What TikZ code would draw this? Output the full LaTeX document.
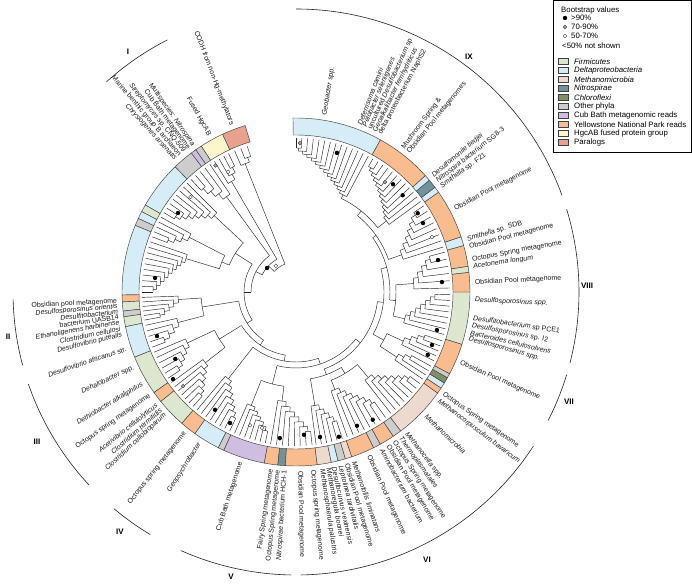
\documentclass[tikz,border=0pt]{standalone}
\usepackage{fontspec}
\setmainfont{Liberation Sans}
\definecolor{cFir}{RGB}{221,231,207}
\definecolor{cDel}{RGB}{214,237,247}
\definecolor{cMet}{RGB}{238,217,207}
\definecolor{cNit}{RGB}{111,146,156}
\definecolor{cChl}{RGB}{124,146,102}
\definecolor{cOth}{RGB}{205,205,205}
\definecolor{cCub}{RGB}{206,190,226}
\definecolor{cYel}{RGB}{249,188,143}
\definecolor{cHgc}{RGB}{251,246,205}
\definecolor{cPar}{RGB}{233,161,143}
\tikzset{
  tree/.style={line width=0.45pt,draw=black!85},
  ringline/.style={draw=black!75,line width=0.45pt},
  lab/.style={font=\fontsize{7}{7}\selectfont,inner sep=0pt,text=black!90},
  clab/.style={font=\fontsize{8}{9}\selectfont\bfseries,inner sep=0pt},
  cladearc/.style={line width=0.6pt,draw=black!85},
  bdot/.style={circle,fill=black,inner sep=0pt,minimum size=4.4pt},
  gdot/.style={circle,fill=black!35,draw=black!80,line width=0.35pt,inner sep=0pt,minimum size=3.8pt},
  odot/.style={circle,fill=white,draw=black!80,line width=0.35pt,inner sep=0pt,minimum size=3.8pt},
  legtext/.style={font=\fontsize{7.8}{9}\selectfont,inner sep=0pt,anchor=west},
  swatch/.style={draw=black!75,line width=0.4pt}
}
\newcommand\Rt{154}
% caterpillar clade: #1 name, #2 first tip angle (root side), #3 last tip angle, #4 tips, #5 root radius, #6 step
\newcommand\TCat[6]{%
  \pgfmathsetmacro\Cd{(#3-#2)/(#4-1)}%
  \pgfmathtruncatemacro\Cm{#4-1}%
  \xdef\Cpsi{#3}%
  \xdef\Crr{\Rt}%
  \foreach \Ci in {1,...,\Cm}{%
    \pgfmathtruncatemacro\Cj{\Cm+1-\Ci}%
    \pgfmathsetmacro\Ct{#2+(\Cj-1)*\Cd}%
    \pgfmathsetmacro\Cr{#5+(\Cj-1)*#6}%
    \draw[tree] (\Ct:\Cr pt) arc[start angle=\Ct,end angle=\Cpsi,radius=\Cr pt];
    \draw[tree] (\Ct:\Cr pt) -- (\Ct:\Rt pt);
    \draw[tree] (\Cpsi:\Cr pt) -- (\Cpsi:\Crr pt);
    \pgfmathsetmacro\Cn{(\Ct+\Cpsi)/2}%
    \coordinate (#1-\Cj) at (\Cn:\Cr pt);
    \xdef\Cpsi{\Cn}\xdef\Crr{\Cr}%
  }%
  \expandafter\xdef\csname ra#1\endcsname{\Cpsi}%
  \expandafter\xdef\csname rr#1\endcsname{#5}%
}
% ladder join of named subtrees: #1 new name, #2 last child, #3 list child/radius (reverse order)
\newcommand\TJoin[3]{%
  \xdef\Jpsi{\csname ra#2\endcsname}%
  \xdef\Jrr{\csname rr#2\endcsname}%
  \foreach \Jc/\Jr in {#3}{%
    \xdef\Jt{\csname ra\Jc\endcsname}%
    \xdef\Jcr{\csname rr\Jc\endcsname}%
    \draw[tree] (\Jt:\Jr pt) arc[start angle=\Jt,end angle=\Jpsi,radius=\Jr pt];
    \draw[tree] (\Jt:\Jr pt) -- (\Jt:\Jcr pt);
    \draw[tree] (\Jpsi:\Jr pt) -- (\Jpsi:\Jrr pt);
    \pgfmathsetmacro\Jn{(\Jt+\Jpsi)/2}%
    \coordinate (#1-\Jc) at (\Jn:\Jr pt);
    \xdef\Jpsi{\Jn}\xdef\Jrr{\Jr}%
  }%
  \expandafter\xdef\csname ra#1\endcsname{\Jpsi}%
  \expandafter\xdef\csname rr#1\endcsname{\Jrr}%
}
\newcommand\Seg[3]{\filldraw[fill=#3,ringline] (#1:157pt) arc[start angle=#1,end angle=#2,radius=157pt] -- (#2:174pt) arc[start angle=#2,end angle=#1,radius=174pt] -- cycle;}
\newcount\LabN
\newcommand\LR[2]{\global\advance\LabN by 1 \node[lab,rotate=#1,anchor=west] (lab\the\LabN) at (#1:179pt) {#2};}
\newcommand\LL[2]{\global\advance\LabN by 1 \node[lab,rotate=#1-180,anchor=east] (lab\the\LabN) at (#1:179pt) {#2};}
\newcount\DotN
\newcommand\PD[3]{\global\advance\DotN by 1 \node[#1] (dot\the\DotN) at (#2:#3pt) {};}
\begin{document}
\begin{tikzpicture}[x=1pt,y=1pt]
\useasboundingbox (0,0) rectangle (692,584);
\fill[white] (0,0) rectangle (692,584);
\begin{scope}[shift={(296,292)}]
% ---------- ring ----------
\foreach \a/\b/\c in {107/115/cPar,115/123/cHgc,123/125.2/cOth,125.2/127/cCub,127/134/cOth,
  134/150/cDel,150/152.5/cFir,152.5/155/cDel,155/157.5/cOth,157.5/181/cDel,
  181/183.3/cYel,183.3/186.3/cFir,186.3/188.2/cOth,188.2/191.5/cFir,191.5/202/cDel,
  202/215.3/cFir,215.3/219/cYel,219/229/cFir,229/234.5/cYel,234.5/243.5/cDel,243.5/245.5/cOth,
  245.5/259.5/cCub,259.5/264/cYel,264/266.5/cNit,266.5/277/cYel,
  277/281.7/cMet,281.7/284/cDel,284/286.5/cOth,286.5/288.7/cMet,288.7/296.5/cYel,
  296.5/299/cOth,299/304/cYel,304/307/cOth,307/324.5/cMet,
  324.5/326.5/cYel,326.5/328.5/cDel,328.5/330.5/cChl,330.5/332/cOth,332/342.5/cYel,
  342.5/360/cFir,360/366.5/cYel,366.5/368.5/cFir,368.5/375.5/cYel,375.5/378.5/cDel,
  378.5/395/cYel,395/397/cDel,397/400/cNit,400/402/cDel,402/421/cYel,421/451/cDel}
  {\Seg{\a}{\b}{\c}}
% ---------- tree ----------
\TCat{A}{113.5}{108.5}{3}{138}{5}
\TCat{B}{122}{116}{4}{128}{6}
\TCat{C}{124}{133}{5}{118}{7}
\TCat{D1}{135}{149}{8}{112}{5}
\TCat{D2}{151}{159}{5}{120}{6}
\TCat{D3}{161}{180}{10}{115}{3.5}
\TJoin{D}{D3}{D2/80,D1/72}
\TCat{E1}{182}{190.5}{6}{118}{5}
\TCat{E2}{192.5}{201}{5}{122}{6}
\TJoin{E}{E2}{E1/95}
\TCat{F1}{203}{214}{6}{120}{5}
\TCat{F2}{216}{228}{7}{115}{5}
\TJoin{F}{F2}{F1/90}
\TCat{G}{230}{244.5}{8}{110}{5}
\TCat{H1}{246.5}{258.5}{7}{122}{4}
\TCat{H2}{260.5}{276}{8}{110}{5}
\TJoin{H}{H2}{H1/95}
\TCat{I1}{277.5}{287.5}{6}{115}{5}
\TCat{I2}{289.5}{305.5}{8}{105}{5}
\TCat{I3}{308}{323.5}{8}{112}{5}
\TJoin{I}{I3}{I2/95,I1/88}
\TCat{J1}{325.5}{331.2}{4}{120}{6}
\TCat{J2}{333.5}{341.5}{5}{118}{6}
\TJoin{J}{J2}{J1/100}
\TCat{K1}{344}{359}{8}{112}{4.5}
\TCat{K2}{361.5}{375}{6}{118}{5}
\TJoin{K}{K2}{K1/100}
\TCat{L1}{377}{394}{8}{112}{5}
\TCat{L2}{396}{420}{12}{115}{3}
\TCat{L3}{422}{450}{14}{108}{3}
\TJoin{L}{L3}{L2/104,L1/98}
\TJoin{T}{L}{K/94,J/88,I/82,H/76,G/70,F/64,E/58,D/52,C/45,B/38,A/30}
% ---------- bootstrap dots ----------
\foreach \a/\r in {140.4/37.6,146.2/142,174.3/141.7,197.6/145.8,209/138,215.3/150.7,73.6/145,48/145,
  42.2/144,32.9/145,28.5/144.5,12.7/145.6,3.9/146.3,-15.1/146,-21.3/146,-25.5/146,-59/149,-65.5/147,
  -73.5/151,-80.6/147,-86.8/143,263.7/147,235.5/143,243.3/146.7}{\PD{bdot}{\a}{\r}}
\foreach \a/\r in {51/141.5,88.5/149,122.5/150,219.8/147}{\PD{gdot}{\a}{\r}}
\foreach \a/\r in {127.6/33,138/142,119.5/138,22/146.7,251/141,256/140}{\PD{odot}{\a}{\r}}
% ---------- labels right ----------
\LR{80.8}{\textit{Geobacter} spp.}
\LR{69.2}{\textit{Deferrisoma camini}}
\LR{67.4}{\textit{Pelobacter seleniigenes}}
\LR{65.6}{uncultured \textit{Desulfobacterium} sp}
\LR{63.8}{\textit{Geoalkalibacter ferrihydriticus}}
\LR{62}{delta proteobacterium NaphS2}
\LR{53.3}{Mushroom Spring \&}
\LR{51.1}{Obsidian Pool metagenomes}
\LR{40.2}{\textit{Desulfomonile tiedjei}}
\LR{38.1}{\textit{Nitrospira} bacterium SG8-3}
\LR{36}{\textit{Smithella} sp. F21}
\LR{27.6}{Obsidian Pool metagenome}
\LR{17}{\textit{Smithella} sp. SDB}
\LR{14.5}{Obsidian Pool metagenome}
\LR{10.5}{Octopus Spring metagenome}
\LR{8.2}{\textit{Acetonema longum}}
\LR{3}{Obsidian Pool metagenome}
\LR{-2.6}{\textit{Desulfosporosinus spp.}}
\LR{-8.5}{\textit{Desulfitobacterium} sp PCE1}
\LR{-10.8}{\textit{Desulfosporosinus} sp. I2}
\LR{-13.1}{\textit{Bacteroides cellulosolvens}}
\LR{-15.2}{\textit{Desulfosporosinus spp.}}
\LR{-23.4}{Obsidian Pool metagenome}
\LR{-34.7}{Octopus Spring metagenome}
\LR{-37.3}{\textit{Methanocorpusculum bavaricum}}
\LR{-43.6}{\textit{Methanomicrobia}}
\LR{-52}{\textit{Methanocella} spp.}
\LR{-54.4}{\textit{Thermoplasmatales}}
\LR{-56.8}{Octopus Spring metagenome}
\LR{-59.1}{Obsidian Pool metagenome}
\LR{-61.4}{\textit{Aminobacterium} bacterium}
\LR{-66}{Obsidian Pool metagenome}
\LR{-71}{\textit{Methanofollis liminatans}}
\LR{-73.6}{Obsidian Pool metagenome}
\LR{-75.7}{\textit{Leptolinea tardivitalis}}
\LR{-77.7}{\textit{Desulfocurvus vexinensis}}
\LR{-79.6}{\textit{Methanoregula boonei}}
\LR{-81.6}{\textit{Methanosphaerula palustris}}
\LR{-84.6}{Octopus spring metagenome}
\LR{-88.7}{Obsidian Pool metagenome}
% ---------- labels left ----------
\LL{266.4}{\textit{Nitrospirae} bacterium HCH-1}
\LL{264.2}{Octopus Spring metagenome}
\LL{262}{Fairy Spring metagenome}
\LL{252}{Cub Bath metagenome}
\LL{237.5}{\textit{Geopsychrobacter}}
\LL{231.7}{Octopus spring metagenome}
\LL{223.1}{\textit{Clostridium cellobioparum}}
\LL{221.1}{\textit{Clostridium termitidis}}
\LL{219.1}{\textit{Acetivibrio cellulolyticus}}
\LL{215.3}{Octopus spring metagenome}
\LL{211}{\textit{Dethiobacter alkaliphilus}}
\LL{205}{\textit{Dehalobacter} spp.}
\LL{198.5}{\textit{Desulfovibrio africanus} str.}
\LL{193.8}{\textit{Desulfovibrio putealis}}
\LL{191.8}{\textit{Clostridium cellulosi}}
\LL{189.9}{\textit{Ethanoligenens harbinense}}
\LL{188}{bacterium UASB14}
\LL{186.3}{\textit{Desulfitobacterium}}
\LL{184.7}{\textit{Desulfosporosinus orientis}}
\LL{183}{Obsidian pool metagenome}
\LL{132.2}{\textit{Chrysiogenes arsenatis}}
\LL{130.4}{Marine benthic group B archaeon}
\LL{128.6}{\textit{Streptomyces} sp. CNQ-509}
\LL{126.8}{Cub Bath metagenome}
\LL{125}{Multispecies: \textit{Nitrospina}}
\LL{119}{Fused HgcAB}
\LL{111}{CODH from non-Hg-methylators}
% ---------- clade arcs ----------
\foreach \a/\b in {117/132,181.5/195,199/223,230/239,246/269,271/327,333/343,345.5/377,380/450}
  {\draw[cladearc] (\a:283pt) arc[start angle=\a,end angle=\b,radius=283pt];}
\end{scope}
\node[clab] (nI) at (128,532) {I};
\node[clab] (nII) at (8,247) {II};
\node[clab] (nIII) at (37,142) {III};
\node[clab] (nIV) at (120,52) {IV};
\node[clab] (nV) at (231,7) {V};
\node[clab] (nVI) at (427,24) {VI};
\node[clab] (nVII) at (569,182) {VII};
\node[clab] (nVIII) at (587,298) {VIII};
\node[clab] (nIX) at (469,527) {IX};
% ---------- legend ----------
\draw[line width=0.6pt,fill=white] (553.5,431.5) rectangle (691.5,583.5);
\node[legtext] (lgt) at (561,574) {Bootstrap values};
\node[bdot] (lgd1) at (565,566) {};
\node[gdot] (lgd2) at (565,557) {};
\node[odot] (lgd3) at (565,548) {};
\node[legtext] (lgd1t) at (571,566) {>90\%};
\node[legtext] (lgd2t) at (571,557) {70-90\%};
\node[legtext] (lgd3t) at (571,548) {50-70\%};
\node[legtext] (lgd4t) at (562,538) {<50\% not shown};
\foreach \y/\c/\t [count=\i] in {522.5/cFir/\textit{Firmicutes},513.5/cDel/\textit{Deltaproteobacteria},
  504.5/cMet/\textit{Methanomicrobia},495.5/cNit/\textit{Nitrospirae},486.5/cChl/\textit{Chloroflexi},
  477.5/cOth/Other phyla,468.5/cCub/Cub Bath metagenomic reads,459.5/cYel/Yellowstone National Park reads,
  450.5/cHgc/HgcAB fused protein group,441.5/cPar/Paralogs}{
  \filldraw[fill=\c,swatch] (558,\y-3) rectangle (568,\y+3);
  \node[legtext] (leg\i) at (574,\y) {\t};
}
\end{tikzpicture}
\end{document}
